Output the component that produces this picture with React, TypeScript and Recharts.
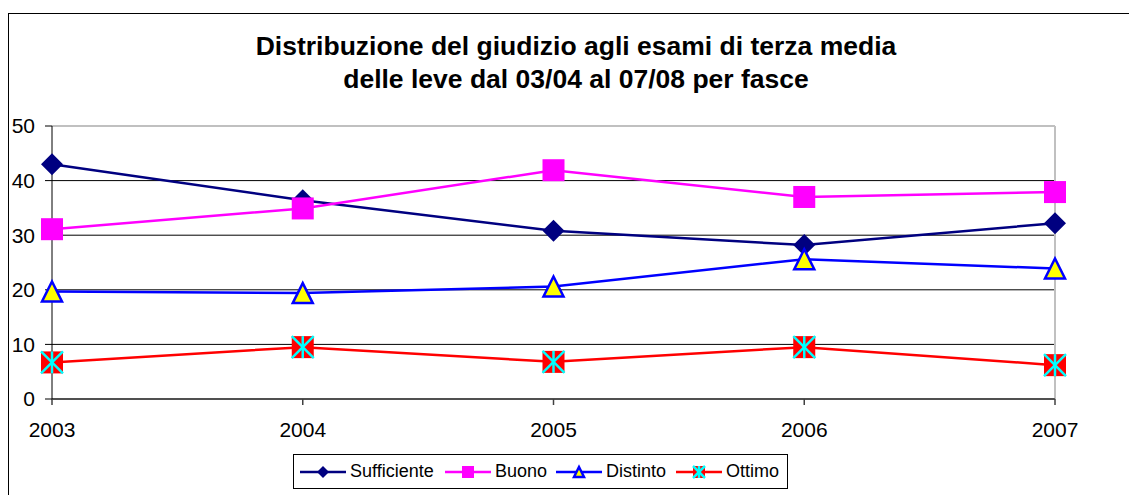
import React from 'react';
import { LineChart, Line, XAxis, YAxis, CartesianGrid, ReferenceLine } from 'recharts';

const years = ['2003', '2004', '2005', '2006', '2007'];
const sufficiente = [43.0, 36.4, 30.8, 28.2, 32.2];
const buono = [31.1, 34.9, 41.9, 37.0, 37.9];
const distinto = [19.7, 19.4, 20.6, 25.6, 23.9];
const ottimo = [6.7, 9.5, 6.8, 9.5, 6.2];
const yTicks = [0, 10, 20, 30, 40, 50];

const titleLines = [
  'Distribuzione del giudizio agli esami di terza media',
  'delle leve dal 03/04 al 07/08 per fasce',
];

const font = '"Liberation Sans", Arial, sans-serif';

const data = years.map((year, i) => ({
  year,
  sufficiente: sufficiente[i],
  buono: buono[i],
  distinto: distinto[i],
  ottimo: ottimo[i],
}));

type MarkerKind = 'diamond' | 'square' | 'triangle' | 'star';

const Marker = ({ kind, cx, cy, r }: { kind: MarkerKind; cx: number; cy: number; r: number }) => {
  if (kind === 'diamond') {
    return <polygon points={`${cx},${cy - r} ${cx + r},${cy} ${cx},${cy + r} ${cx - r},${cy}`} fill="#000080" />;
  }
  if (kind === 'square') {
    return <rect x={cx - r} y={cy - r} width={r * 2} height={r * 2} fill="#FF00FF" />;
  }
  if (kind === 'triangle') {
    const s = r - 1;
    return (
      <polygon
        points={`${cx},${cy - s} ${cx + s},${cy + s} ${cx - s},${cy + s}`}
        fill="#FFFF00"
        stroke="#0000FF"
        strokeWidth={2.5}
      />
    );
  }
  return (
    <g>
      <rect x={cx - r} y={cy - r} width={r * 2} height={r * 2} fill="#FF0000" />
      <line x1={cx - r} y1={cy - r} x2={cx + r} y2={cy + r} stroke="#00FFFF" strokeWidth={2.5} />
      <line x1={cx - r} y1={cy + r} x2={cx + r} y2={cy - r} stroke="#00FFFF" strokeWidth={2.5} />
      <line x1={cx} y1={cy - r} x2={cx} y2={cy + r} stroke="#00FFFF" strokeWidth={2.5} />
    </g>
  );
};

const dotFor = (kind: MarkerKind) => (props: any) => {
  const { cx, cy, index } = props;
  if (cx == null || cy == null) return <g key={index} />;
  return <Marker key={index} kind={kind} cx={cx} cy={cy} r={11} />;
};

const series = [
  { key: 'sufficiente', name: 'Sufficiente', color: '#000080', kind: 'diamond' as MarkerKind },
  { key: 'buono', name: 'Buono', color: '#FF00FF', kind: 'square' as MarkerKind },
  { key: 'distinto', name: 'Distinto', color: '#0000FF', kind: 'triangle' as MarkerKind },
  { key: 'ottimo', name: 'Ottimo', color: '#FF0000', kind: 'star' as MarkerKind },
];

// legend item left edges, relative to the legend box
const legendOffsets = [6, 151, 262, 382];

export default function App() {
  return (
    <div style={{ position: 'fixed', left: 0, top: 0, width: 1129, height: 495, overflow: 'hidden', background: '#fff', fontFamily: font }}>
      {/* outer chart frame */}
      <div style={{ position: 'absolute', left: 8, top: 13, width: 1200, height: 600, borderLeft: '1.5px solid #000', borderTop: '1.5px solid #000' }} />

      <svg width={1129} height={100} style={{ position: 'absolute', left: 0, top: 0 }}>
        {titleLines.map((t, i) => (
          <text key={i} x={576} y={55 + i * 33} textAnchor="middle" fontFamily={font} fontWeight="bold" fontSize={26.5} fill="#000">
            {t}
          </text>
        ))}
      </svg>

      <div style={{ position: 'absolute', left: 0, top: 0 }}>
        <LineChart width={1129} height={495} data={data} margin={{ top: 126, right: 74, bottom: 66, left: 7 }}>
          <CartesianGrid vertical={false} stroke="#000" strokeWidth={1} />
          <ReferenceLine y={50} stroke="#C0C0C0" strokeWidth={2} />
          <ReferenceLine x="2007" stroke="#C0C0C0" strokeWidth={2} />
          <XAxis
            dataKey="year"
            height={30}
            tickSize={6}
            tickMargin={17}
            stroke="#404040"
            strokeWidth={1.5}
            tick={{ fill: '#000', fontSize: 21, fontFamily: font }}
            interval={0}
          />
          <YAxis
            domain={[0, 50]}
            ticks={yTicks}
            width={45}
            tickSize={7}
            tickMargin={10}
            stroke="#000"
            strokeWidth={1}
            tick={{ fill: '#000', fontSize: 21, fontFamily: font }}
          />
          {series.map((s) => (
            <Line
              key={s.key}
              type="linear"
              dataKey={s.key}
              name={s.name}
              stroke={s.color}
              strokeWidth={2.5}
              dot={dotFor(s.kind)}
              activeDot={false}
              isAnimationActive={false}
            />
          ))}
        </LineChart>
      </div>

      {/* legend */}
      <div
        style={{
          position: 'absolute',
          left: 293,
          top: 454,
          width: 495,
          height: 35,
          boxSizing: 'border-box',
          border: '1px solid #000',
          fontSize: 18,
          fontFamily: font,
          color: '#000',
        }}
      >
        {series.map((s, i) => (
          <div key={s.key} style={{ position: 'absolute', left: legendOffsets[i], top: 0, height: 33, display: 'flex', alignItems: 'center', whiteSpace: 'nowrap' }}>
            <svg width={46} height={20}>
              <line x1={0} y1={10} x2={46} y2={10} stroke={s.color} strokeWidth={2.5} />
              <Marker kind={s.kind} cx={23} cy={10} r={6} />
            </svg>
            <span style={{ marginLeft: 4 }}>{s.name}</span>
          </div>
        ))}
      </div>
    </div>
  );
}
